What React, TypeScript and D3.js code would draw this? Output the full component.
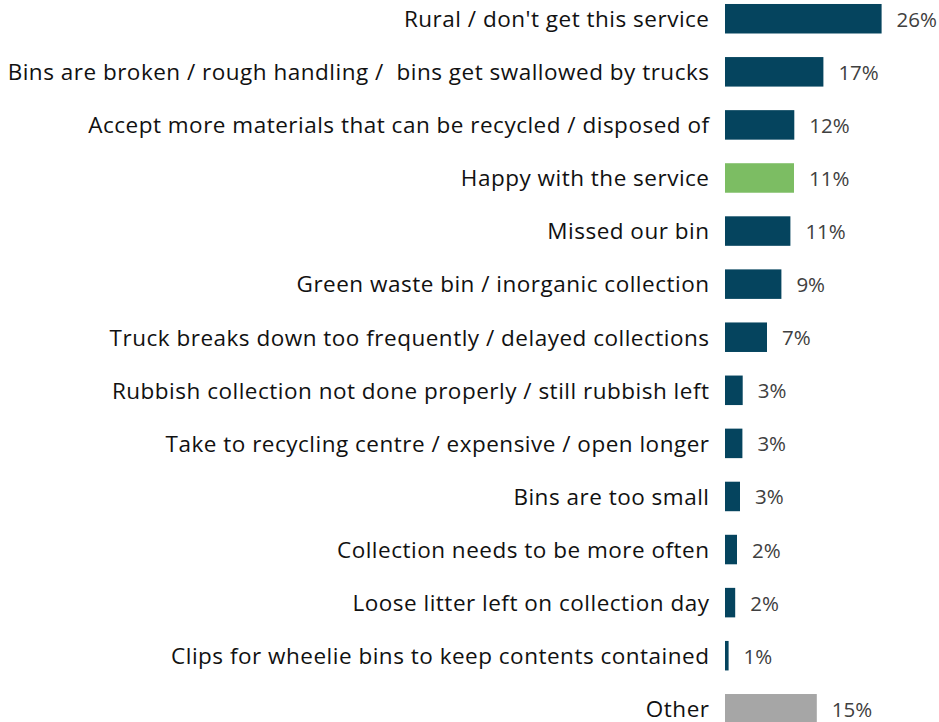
import React from "react";
import * as d3 from "d3";

const categories = [
  "Rural / don't get this service",
  "Bins are broken / rough handling /  bins get swallowed by trucks",
  "Accept more materials that can be recycled / disposed of",
  "Happy with the service",
  "Missed our bin",
  "Green waste bin / inorganic collection",
  "Truck breaks down too frequently / delayed collections",
  "Rubbish collection not done properly / still rubbish left",
  "Take to recycling centre / expensive / open longer",
  "Bins are too small",
  "Collection needs to be more often",
  "Loose litter left on collection day",
  "Clips for wheelie bins to keep contents contained",
  "Other",
];
const values = [26.1, 16.4, 11.55, 11.5, 10.9, 9.4, 7.0, 2.95, 2.9, 2.5, 2.0, 1.7, 0.6, 15.3];
const valueLabels = ["26%", "17%", "12%", "11%", "11%", "9%", "7%", "3%", "3%", "3%", "2%", "2%", "1%", "15%"];
const barKinds = ["main", "main", "main", "positive", "main", "main", "main", "main", "main", "main", "main", "main", "main", "other"];

const colors: Record<string, string> = { main: "#05445E", positive: "#7CBD63", other: "#A6A6A6" };

export default function App() {
  const width = 939;
  const height = 722;
  const x0 = 725;
  const x = d3.scaleLinear().domain([0, 1]).range([x0, x0 + 6.0]);
  const step = 53.08;
  const y = d3
    .scaleBand<string>()
    .domain(categories)
    .range([-7.8, -7.8 + step * categories.length])
    .paddingInner(0.444)
    .paddingOuter(0.222);
  const font = "'Open Sans', sans-serif";
  return (
    <svg width={width} height={height} style={{ position: "absolute", left: 0, top: 0 }}>
      {categories.map((c, i) => {
        const yy = y(c)!;
        const bw = y.bandwidth();
        const cy = yy + bw / 2;
        return (
          <g key={c}>
            <rect x={x(0)} y={yy} width={x(values[i]) - x(0)} height={bw} fill={colors[barKinds[i]]} />
            <text x={709.5} y={cy + 8.3} textAnchor="end" fontFamily={font} fontSize={22.5} letterSpacing={0.5} fill="#111">
              {c.replace(/ /g, "\u00a0")}
            </text>
            <text x={x(values[i]) + 15} y={cy + 8} fontFamily={font} fontSize={20.5} fill="#404040">
              {valueLabels[i]}
            </text>
          </g>
        );
      })}
    </svg>
  );
}
